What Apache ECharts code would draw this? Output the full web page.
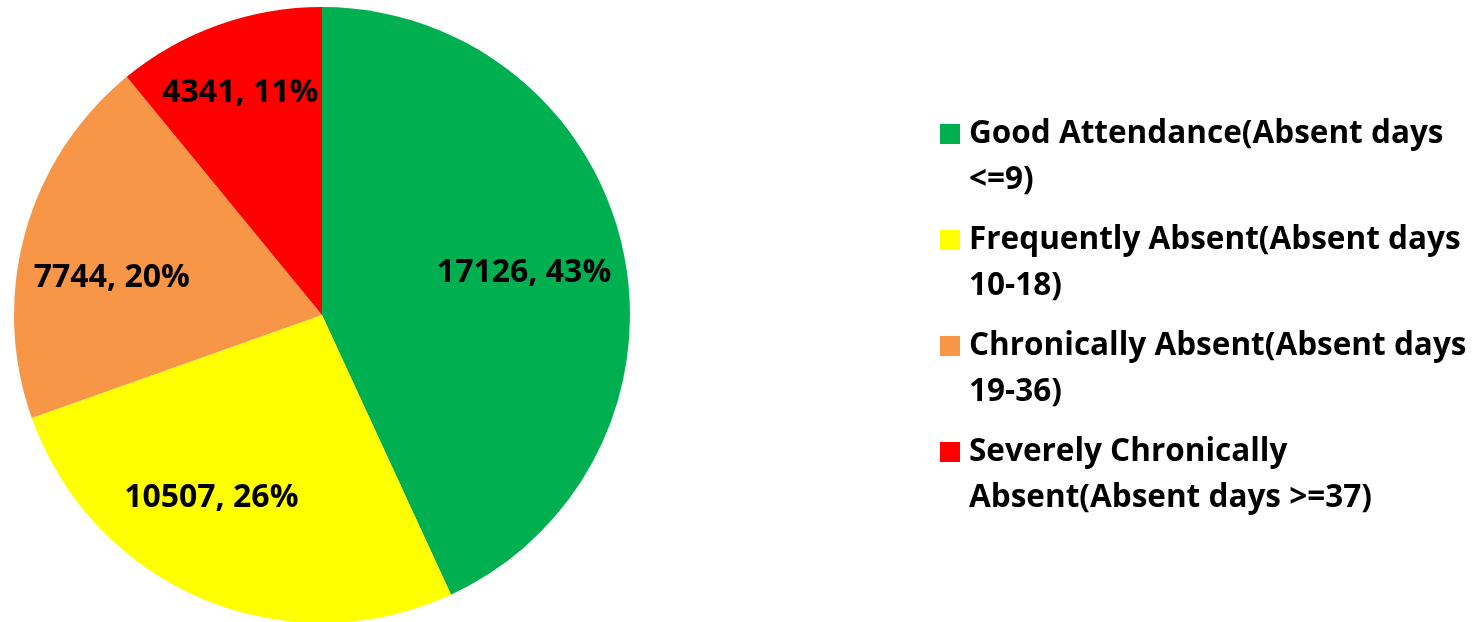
<!DOCTYPE html>
<html>
<head>
<meta charset="utf-8">
<script src="https://cdn.jsdelivr.net/npm/echarts@6/dist/echarts.min.js"></script>
<style>
  html, body { margin: 0; padding: 0; background: #fff; }
  #chart { width: 1473px; height: 622px; }
</style>
</head>
<body>
<div id="chart"></div>
<script>
// attendance categories and student counts
const categories = [
  'Good Attendance(Absent days <=9)',
  'Frequently Absent(Absent days 10-18)',
  'Chronically Absent(Absent days 19-36)',
  'Severely Chronically Absent(Absent days >=37)'
]
const counts = [17126, 10507, 7744, 4341]
const colors = ['#00B050', '#FFFF00', '#F79646', '#FF0000']

// small label nudges (Excel "best fit" doesn't sit exactly on the mid angle)
const labelNudge = [[-6, 4], [-28, -13], [-5, 20], [-10, -22]]

const FONT = '"Open Sans", "Noto Sans", sans-serif'

const chart = echarts.init(document.getElementById('chart'))

const pieData = categories.map((name, i) => ({
  name,
  value: counts[i],
  itemStyle: { color: colors[i] }
}))

chart.setOption({
  animation: false,
  legend: {
    orient: 'vertical',
    left: 940,
    top: 65,
    padding: 0,
    icon: 'rect',
    itemWidth: 20,
    itemHeight: 20,
    itemGap: -32,
    selectedMode: false,
    data: categories,
    // leading blank line keeps the colour square level with the first text line
    formatter: name => '\n' + name,
    textStyle: {
      fontFamily: FONT,
      fontWeight: 'bold',
      fontSize: 31.5,
      color: '#000',
      lineHeight: 46,
      width: 520,
      overflow: 'break',
      padding: [0, 0, 0, 4]
    }
  },
  series: [
    {
      type: 'pie',
      center: [322, 315],
      radius: [0, 308],
      startAngle: 90,
      clockwise: true,
      silent: true,
      label: { show: false },
      labelLine: { show: false },
      data: pieData
    },
    {
      // transparent ring only used to place the value labels
      type: 'pie',
      center: [322, 315],
      radius: [110, 310],
      startAngle: 90,
      clockwise: true,
      silent: true,
      percentPrecision: 0,
      itemStyle: { color: 'transparent' },
      labelLine: { show: false },
      label: {
        show: true,
        position: 'inside',
        fontFamily: FONT,
        fontWeight: 'bold',
        fontSize: 32,
        color: '#000',
        formatter: '{c}, {d}%'
      },
      labelLayout: p => ({ dx: labelNudge[p.dataIndex][0], dy: labelNudge[p.dataIndex][1] }),
      data: categories.map((name, i) => ({ name, value: counts[i] }))
    }
  ]
})
</script>
</body>
</html>
